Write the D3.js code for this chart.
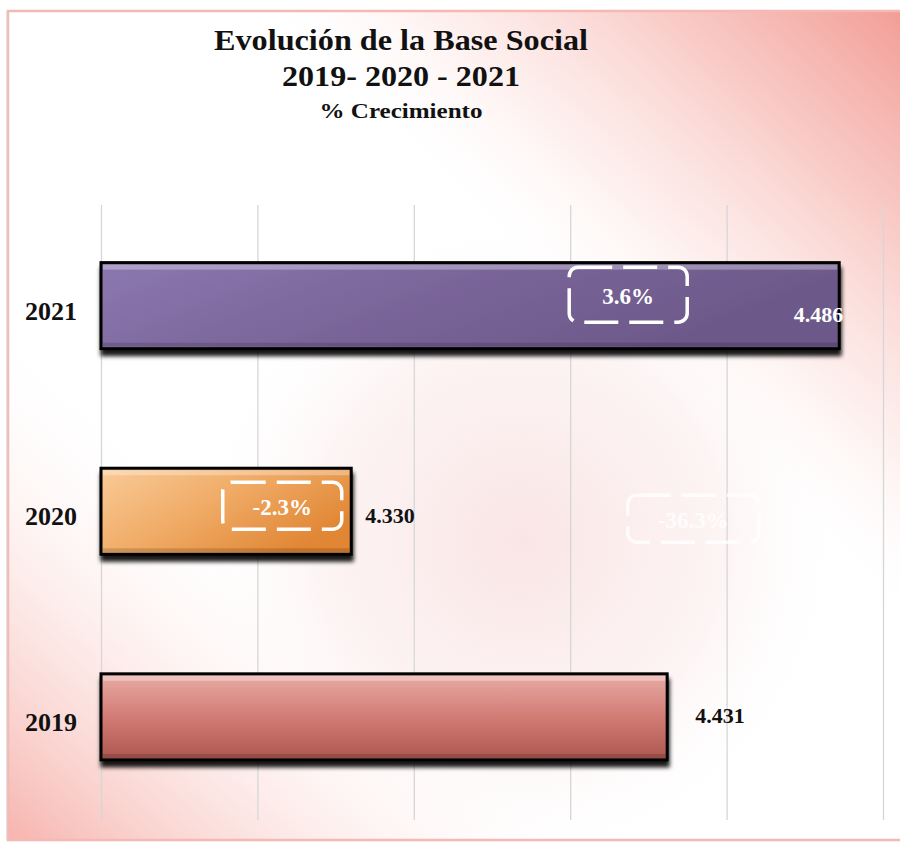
<!DOCTYPE html>
<html>
<head>
<meta charset="utf-8">
<script src="https://cdn.jsdelivr.net/npm/d3@7/dist/d3.min.js"></script>
<style>
body{margin:0;background:#fff;}
text{font-family:"Liberation Serif","Times New Roman",serif;font-weight:bold;}
</style>
</head>
<body>
<script>
// data
var years = ['2021','2020','2019'];
var socios = [4486, 4330, 4431];
var growthYears = ['2021','2020','2020'];
var growthLabels = ['3.6%','-2.3%','-36.3%'];
var xTicks = [4250,4300,4350,4400,4450,4500];
var titleLines = ['Evolución de la Base Social','2019- 2020 - 2021','% Crecimiento'];

var width = 900, height = 843;

var es = d3.formatLocale({decimal:',', thousands:'.', grouping:[3], currency:['','€']});
var fmt = es.format(',d');

var svg = d3.select('body').append('svg')
    .attr('width', width)
    .attr('height', height);

var defs = svg.append('defs');

// background gradients
var gTR = defs.append('linearGradient').attr('id','bgTR')
    .attr('gradientUnits','userSpaceOnUse')
    .attr('x1',900).attr('y1',11).attr('x2',590).attr('y2',340);
gTR.append('stop').attr('offset',0).attr('stop-color','#f29891').attr('stop-opacity',0.95);
gTR.append('stop').attr('offset',0.35).attr('stop-color','#f6b3ad').attr('stop-opacity',0.7);
gTR.append('stop').attr('offset',0.7).attr('stop-color','#fbdcd8').attr('stop-opacity',0.45);
gTR.append('stop').attr('offset',1).attr('stop-color','#ffffff').attr('stop-opacity',0);

var gBL = defs.append('linearGradient').attr('id','bgBL')
    .attr('gradientUnits','userSpaceOnUse')
    .attr('x1',0).attr('y1',843).attr('x2',270).attr('y2',540);
gBL.append('stop').attr('offset',0).attr('stop-color','#f5a39c').attr('stop-opacity',0.85);
gBL.append('stop').attr('offset',0.45).attr('stop-color','#f9cdc8').attr('stop-opacity',0.5);
gBL.append('stop').attr('offset',1).attr('stop-color','#ffffff').attr('stop-opacity',0);

var gMid = defs.append('radialGradient').attr('id','bgMid')
    .attr('gradientUnits','userSpaceOnUse')
    .attr('cx',520).attr('cy',540).attr('r',330);
gMid.append('stop').attr('offset',0).attr('stop-color','#f8dcdc').attr('stop-opacity',0.75);
gMid.append('stop').attr('offset',0.6).attr('stop-color','#fae6e6').attr('stop-opacity',0.45);
gMid.append('stop').attr('offset',1).attr('stop-color','#ffffff').attr('stop-opacity',0);

// bar gradients
var barGrad = {
  '2021': {x2:1, y2:0.3, stops:[['#8c78b0',0],['#7a6599',0.5],['#6c5889',1]]},
  '2020': {x2:1, y2:0.6, stops:[['#f9cb98',0],['#f0ab66',0.5],['#e08634',1]]},
  '2019': {x2:0, y2:1, stops:[['#e8aca6',0],['#d27c74',0.5],['#ad5750',1]]}
};
years.forEach(function(y){
  var g = defs.append('linearGradient').attr('id','bar'+y)
      .attr('x1',0).attr('y1',0).attr('x2',barGrad[y].x2).attr('y2',barGrad[y].y2);
  barGrad[y].stops.forEach(function(s){
    g.append('stop').attr('offset',s[1]).attr('stop-color',s[0]);
  });
});

var shadow = defs.append('filter').attr('id','shadow')
    .attr('x','-5%').attr('y','-10%').attr('width','115%').attr('height','140%');
shadow.append('feDropShadow').attr('dx',1).attr('dy',6).attr('stdDeviation',2)
    .attr('flood-color','#000').attr('flood-opacity',0.9);

// background + frame
svg.append('rect').attr('x',0).attr('y',0).attr('width',width).attr('height',height).attr('fill','#fff');
['#fff','url(#bgMid)','url(#bgTR)','url(#bgBL)'].forEach(function(f){
  svg.append('rect').attr('x',8).attr('y',11).attr('width',width).attr('height',829)
      .attr('fill',f);
});
svg.append('rect').attr('x',8).attr('y',11).attr('width',width).attr('height',829)
    .attr('fill','none').attr('stroke','#f4b9b4').attr('stroke-width',2.5);
svg.append('line').attr('x1',7).attr('y1',11).attr('x2',7).attr('y2',840)
    .attr('stroke','#d8cfcf').attr('stroke-width',1);

// scales
var x = d3.scaleLinear().domain([4250,4500]).range([101,883]);
var y = d3.scaleBand().domain(years).range([203,819.5])
    .paddingInner(0.5815).paddingOuter(0.29);

// gridlines
var grid = svg.append('g')
    .attr('transform','translate(0,820)')
    .call(d3.axisBottom(x).tickValues(xTicks).tickSize(-615).tickFormat(''));
grid.select('.domain').remove();
grid.selectAll('.tick line').attr('stroke','#d6d6d6').attr('stroke-width',1.3);

// bars
var bars = svg.append('g');
bars.selectAll('rect.bar')
    .data(years)
    .enter()
    .append('rect')
    .attr('class','bar')
    .attr('x', x(4250))
    .attr('y', function(d){return y(d);})
    .attr('width', function(d,i){return x(socios[i]) - x(4250);})
    .attr('height', y.bandwidth())
    .attr('fill', function(d){return 'url(#bar'+d+')';})
    .attr('stroke','#000')
    .attr('stroke-width',3)
    .attr('filter','url(#shadow)');

// bevel highlights
bars.selectAll('rect.hi')
    .data(years)
    .enter()
    .append('rect')
    .attr('class','hi')
    .attr('x', x(4250)+2)
    .attr('y', function(d){return y(d)+2;})
    .attr('width', function(d,i){return x(socios[i]) - x(4250) - 4;})
    .attr('height', 5)
    .attr('fill','#fff').attr('opacity',0.3);
bars.selectAll('rect.lo')
    .data(years)
    .enter()
    .append('rect')
    .attr('class','lo')
    .attr('x', x(4250)+2)
    .attr('y', function(d){return y(d)+y.bandwidth()-6;})
    .attr('width', function(d,i){return x(socios[i]) - x(4250) - 4;})
    .attr('height', 4)
    .attr('fill','#000').attr('opacity',0.15);

// value labels (2021 inside the bar, the rest outside)
var valDx = [4, 14, 28];
var valDy = [16.5, 12, 6.5];
svg.selectAll('text.val')
    .data(years)
    .enter()
    .append('text')
    .attr('class','val')
    .attr('x', function(d,i){return x(socios[i]) + valDx[i];})
    .attr('y', function(d,i){return y(d) + y.bandwidth()/2 + valDy[i];})
    .attr('text-anchor', function(d,i){return i === 0 ? 'end' : 'start';})
    .attr('fill', function(d,i){return i === 0 ? '#fff' : '#111';})
    .style('font-size','22px')
    .text(function(d,i){return fmt(socios[i]);});

// growth boxes
var boxDx = [-211, -69, 342];
var boxDy = [-11, -5.5, 7.5];
var boxW = [118, 119, 131];
var boxH = [55, 47, 47];
var boxOp = [1, 1, 0.8];
var gb = svg.selectAll('g.growth')
    .data(growthLabels)
    .enter()
    .append('g')
    .attr('class','growth')
    .attr('opacity', function(d,i){return boxOp[i];})
    .attr('transform', function(d,i){
      var yr = growthYears[i];
      var cx = x(socios[years.indexOf(yr)]) + boxDx[i];
      var cy = y(yr) + y.bandwidth()/2 + boxDy[i];
      return 'translate('+cx+','+cy+')';
    });
gb.append('rect')
    .attr('x', function(d,i){return -boxW[i]/2;})
    .attr('y', function(d,i){return -boxH[i]/2;})
    .attr('width', function(d,i){return boxW[i];})
    .attr('height', function(d,i){return boxH[i];})
    .attr('rx',9)
    .attr('fill','none')
    .attr('stroke','#fff')
    .attr('stroke-width',3.5)
    .attr('stroke-dasharray','34,11');
gb.append('text')
    .attr('text-anchor','middle')
    .attr('y',9.5)
    .attr('fill','#fff')
    .style('font-size','23px')
    .text(function(d){return d;});

// category labels
svg.selectAll('text.cat')
    .data(years)
    .enter()
    .append('text')
    .attr('class','cat')
    .attr('x', 77)
    .attr('y', function(d){return y(d) + y.bandwidth()/2 + 14;})
    .attr('text-anchor','end')
    .attr('fill','#111')
    .style('font-size','26px')
    .text(function(d){return d;});

// title
var tBase = [50, 86, 118];
var tSize = [29, 29, 22];
var tLen = [374, 238, 163];
svg.selectAll('text.title')
    .data(titleLines)
    .enter()
    .append('text')
    .attr('class','title')
    .attr('x', 401)
    .attr('y', function(d,i){return tBase[i];})
    .attr('text-anchor','middle')
    .attr('textLength', function(d,i){return tLen[i];})
    .attr('lengthAdjust','spacingAndGlyphs')
    .attr('fill','#111')
    .style('font-size', function(d,i){return tSize[i]+'px';})
    .text(function(d){return d;});
</script>
</body>
</html>
